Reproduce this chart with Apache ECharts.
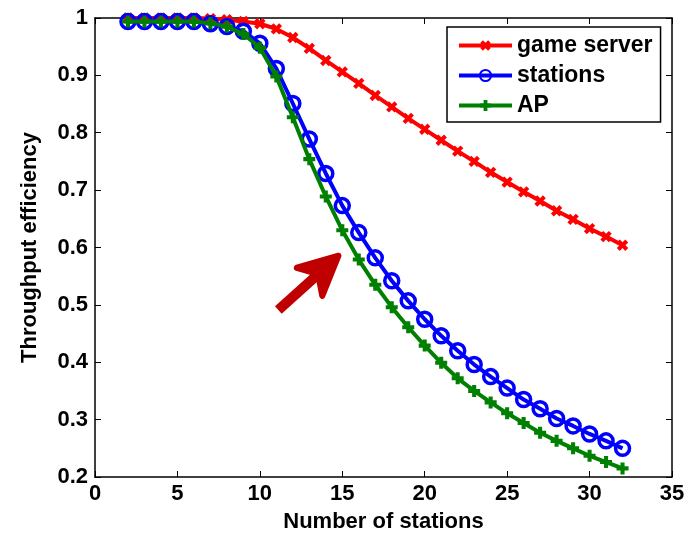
<!DOCTYPE html>
<html>
<head>
<meta charset="utf-8">
<script src="https://cdn.jsdelivr.net/npm/echarts@6/dist/echarts.min.js"></script>
<style>
  html, body { margin: 0; padding: 0; background: #fff; }
  #chart { width: 693px; height: 535px; }
</style>
</head>
<body>
<div id="chart"></div>
<script>
// Number of stations on the x axis
const stations = [2, 3, 4, 5, 6, 7, 8, 9, 10, 11, 12, 13, 14, 15, 16, 17, 18, 19, 20, 21, 22, 23, 24, 25, 26, 27, 28, 29, 30, 31, 32];

// Throughput efficiency per role
const gameServer = [1.000, 1.000, 1.000, 1.000, 1.000, 0.999, 0.997, 0.994, 0.990, 0.981, 0.966, 0.947, 0.926, 0.906, 0.886, 0.865, 0.845, 0.825, 0.806, 0.787, 0.768, 0.750, 0.731, 0.714, 0.697, 0.681, 0.664, 0.649, 0.633, 0.619, 0.604];
const stationsEff = [0.994, 0.994, 0.994, 0.994, 0.994, 0.990, 0.985, 0.977, 0.956, 0.912, 0.851, 0.789, 0.729, 0.673, 0.626, 0.582, 0.542, 0.507, 0.475, 0.446, 0.420, 0.396, 0.375, 0.355, 0.335, 0.319, 0.302, 0.289, 0.275, 0.263, 0.250];
const apEff = [0.994, 0.994, 0.994, 0.994, 0.994, 0.991, 0.985, 0.972, 0.948, 0.898, 0.827, 0.754, 0.689, 0.630, 0.579, 0.535, 0.496, 0.461, 0.429, 0.399, 0.372, 0.350, 0.330, 0.311, 0.294, 0.277, 0.263, 0.250, 0.237, 0.226, 0.215];

// Axis ranges and tick labels
const xTicks = [0, 5, 10, 15, 20, 25, 30, 35];
const yTicks = ['0.2', '0.3', '0.4', '0.5', '0.6', '0.7', '0.8', '0.9', '1'];

// Annotation arrow (tail -> tip) in data units
const arrowTail = [11.12, 0.491];
const arrowTip = [14.86, 0.588];

const FONT = '"Liberation Sans", Arial, Helvetica, sans-serif';
const pair = (xs, ys) => xs.map((x, i) => [x, ys[i]]);

// plus-shaped marker; rotated 45 degrees it becomes an x
const plusPath = 'path://M-1.7,-5H1.7V-1.7H5V1.7H1.7V5H-1.7V1.7H-5V-1.7H-1.7Z';

const chart = echarts.init(document.getElementById('chart'), null, { renderer: 'canvas' });

const tickStyle = { show: true, inside: true, length: 6, lineStyle: { color: '#000', width: 1 } };
const lineAxis = { show: true, onZero: false, lineStyle: { color: '#000', width: 1.5 } };

chart.setOption({
  animation: false,
  backgroundColor: '#fff',
  grid: { left: 95, right: 21, top: 18, bottom: 58, containLabel: false, outerBoundsMode: 'none' },
  legend: {
    left: 447, top: 27,
    orient: 'vertical',
    padding: [7, 8, 5, 10],
    itemGap: 7,
    itemWidth: 53,
    itemHeight: 14,
    borderColor: '#000', borderWidth: 1.5,
    backgroundColor: '#fff',
    lineStyle: { width: 4 },
    textStyle: { fontFamily: FONT, fontWeight: 'bold', fontSize: 23, color: '#000', lineHeight: 20 },
    data: ['game server', 'stations', 'AP']
  },
  xAxis: [{
    type: 'value', min: xTicks[0], max: xTicks[xTicks.length - 1], interval: 5,
    position: 'bottom',
    axisLine: lineAxis, axisTick: tickStyle, splitLine: { show: false },
    axisLabel: { fontFamily: FONT, fontWeight: 'bold', fontSize: 22, color: '#000', margin: 6 },
    name: 'Number of stations', nameLocation: 'middle', nameGap: 34,
    nameTextStyle: { fontFamily: FONT, fontWeight: 'bold', fontSize: 22, color: '#000' }
  }, {
    type: 'value', min: xTicks[0], max: xTicks[xTicks.length - 1], interval: 5,
    position: 'top',
    axisLine: lineAxis, axisTick: tickStyle, axisLabel: { show: false }, splitLine: { show: false }
  }],
  yAxis: [{
    type: 'value', min: 0.2, max: 1, interval: 0.1,
    position: 'left',
    axisLine: lineAxis, axisTick: tickStyle, splitLine: { show: false },
    axisLabel: {
      fontFamily: FONT, fontWeight: 'bold', fontSize: 22, color: '#000', margin: 7,
      formatter: v => yTicks[Math.round(v * 10) - 2]
    },
    name: 'Throughput efficiency', nameLocation: 'middle', nameGap: 54, nameRotate: 90,
    nameTextStyle: { fontFamily: FONT, fontWeight: 'bold', fontSize: 22, color: '#000' }
  }, {
    type: 'value', min: 0.2, max: 1, interval: 0.1,
    position: 'right',
    axisLine: lineAxis, axisTick: tickStyle, axisLabel: { show: false }, splitLine: { show: false }
  }],
  series: [{
    name: 'game server', type: 'line', data: pair(stations, gameServer),
    symbol: plusPath, symbolRotate: 45, symbolSize: 12, showAllSymbol: true,
    lineStyle: { color: '#ff0000', width: 4 },
    itemStyle: { color: '#ff0000' }, z: 3
  }, {
    name: 'stations', type: 'line', data: pair(stations, stationsEff),
    symbol: 'circle', symbolSize: 14, showAllSymbol: true,
    lineStyle: { color: '#0000ff', width: 4 },
    itemStyle: { color: 'rgba(255,255,255,0)', borderColor: '#0000ff', borderWidth: 3.5 }, z: 4
  }, {
    name: 'AP', type: 'line', data: pair(stations, apEff),
    symbol: plusPath, symbolSize: 12, showAllSymbol: true,
    lineStyle: { color: '#008000', width: 4 },
    itemStyle: { color: '#008000' }, z: 5
  }]
});

// Arrow annotation drawn in pixel space from its data-space endpoints
function drawArrow() {
  const t = chart.convertToPixel({ gridIndex: 0 }, arrowTail);
  const p = chart.convertToPixel({ gridIndex: 0 }, arrowTip);
  const dx = p[0] - t[0], dy = p[1] - t[1];
  const len = Math.hypot(dx, dy);
  const ux = dx / len, uy = dy / len;
  const nx = -uy, ny = ux;
  const headLen = 41, halfW = 19;
  const base = [p[0] - ux * headLen, p[1] - uy * headLen];
  const w1 = [base[0] + nx * halfW, base[1] + ny * halfW];
  const w2 = [base[0] - nx * halfW, base[1] - ny * halfW];
  const notch = [p[0] - ux * headLen * 0.72, p[1] - uy * headLen * 0.72];
  const color = '#c00000';
  chart.setOption({
    graphic: [{
      type: 'line', z: 10,
      shape: { x1: t[0], y1: t[1], x2: notch[0], y2: notch[1] },
      style: { stroke: color, lineWidth: 10, lineCap: 'butt' }
    }, {
      type: 'polygon', z: 10,
      shape: { points: [[p[0] - ux * 2, p[1] - uy * 2], w1, notch, w2] },
      style: { fill: color, stroke: color, lineWidth: 6, lineJoin: 'round' }
    }]
  });
}
drawArrow();
</script>
</body>
</html>
